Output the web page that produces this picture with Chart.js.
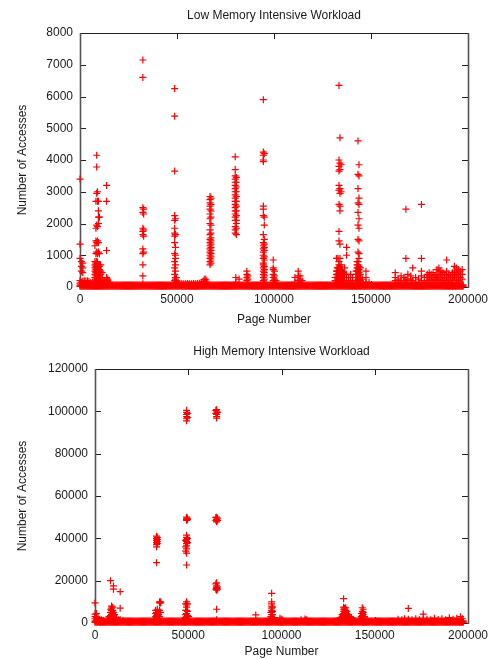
<!DOCTYPE html>
<html>
<head>
<meta charset="utf-8">
<script src="https://cdn.jsdelivr.net/npm/chart.js@4"></script>
<style>
  body { margin: 0; background: #fff; }
  canvas { display: block; }
</style>
</head>
<body>
<canvas id="lowChart" width="496" height="330"></canvas>
<canvas id="highChart" width="496" height="329"></canvas>
<script>
// tick labels
const pageTicks = [0, 50000, 100000, 150000, 200000];
const lowTicks = [0, 1000, 2000, 3000, 4000, 5000, 6000, 7000, 8000];
const highTicks = [0, 20000, 40000, 60000, 80000, 100000, 120000];

// pages touched by both workloads (the solid band along the bottom)
const basePages = [
  0, 500, 1000, 1500, 2000, 2500, 3000, 3500, 4000, 4500, 5000, 5500, 6000, 6500, 7000, 7500, 8000, 8500, 9000, 9500,
  10000, 10500, 11000, 11500, 12000, 12500, 13000, 13500, 14000, 14500, 15000, 15500, 16000, 16500, 17000, 17500, 18000, 18500, 19000, 19500,
  20000, 20500, 21000, 21500, 22000, 22500, 23000, 23500, 24000, 24500, 25000, 25500, 26000, 26500, 27000, 27500, 28000, 28500, 29000, 29500,
  30000, 30500, 31000, 31500, 32000, 32500, 33000, 33500, 34000, 34500, 35000, 35500, 36000, 36500, 37000, 37500, 38000, 38500, 39000, 39500,
  40000, 40500, 41000, 41500, 42000, 42500, 43000, 43500, 44000, 44500, 45000, 45500, 46000, 46500, 47000, 47500, 48000, 48500, 49000, 49500,
  50000, 50500, 51000, 51500, 52000, 52500, 53000, 53500, 54000, 54500, 55000, 55500, 56000, 56500, 57000, 57500, 58000, 58500, 59000, 59500,
  60000, 60500, 61000, 61500, 62000, 62500, 63000, 63500, 64000, 64500, 65000, 65500, 66000, 66500, 67000, 67500, 68000, 68500, 69000, 69500,
  70000, 70500, 71000, 71500, 72000, 72500, 73000, 73500, 74000, 74500, 75000, 75500, 76000, 76500, 77000, 77500, 78000, 78500, 79000, 79500,
  80000, 80500, 81000, 81500, 82000, 82500, 83000, 83500, 84000, 84500, 85000, 85500, 86000, 86500, 87000, 87500, 88000, 88500, 89000, 89500,
  90000, 90500, 91000, 91500, 92000, 92500, 93000, 93500, 94000, 94500, 95000, 95500, 96000, 96500, 97000, 97500, 98000, 98500, 99000, 99500,
  100000, 100500, 101000, 101500, 102000, 102500, 103000, 103500, 104000, 104500, 105000, 105500, 106000, 106500, 107000, 107500, 108000, 108500, 109000, 109500,
  110000, 110500, 111000, 111500, 112000, 112500, 113000, 113500, 114000, 114500, 115000, 115500, 116000, 116500, 117000, 117500, 118000, 118500, 119000, 119500,
  120000, 120500, 121000, 121500, 122000, 122500, 123000, 123500, 124000, 124500, 125000, 125500, 126000, 126500, 127000, 127500, 128000, 128500, 129000, 129500,
  130000, 130500, 131000, 131500, 132000, 132500, 133000, 133500, 134000, 134500, 135000, 135500, 136000, 136500, 137000, 137500, 138000, 138500, 139000, 139500,
  140000, 140500, 141000, 141500, 142000, 142500, 143000, 143500, 144000, 144500, 145000, 145500, 146000, 146500, 147000, 147500, 148000, 148500, 149000, 149500,
  150000, 150500, 151000, 151500, 152000, 152500, 153000, 153500, 154000, 154500, 155000, 155500, 156000, 156500, 157000, 157500, 158000, 158500, 159000, 159500,
  160000, 160500, 161000, 161500, 162000, 162500, 163000, 163500, 164000, 164500, 165000, 165500, 166000, 166500, 167000, 167500, 168000, 168500, 169000, 169500,
  170000, 170500, 171000, 171500, 172000, 172500, 173000, 173500, 174000, 174500, 175000, 175500, 176000, 176500, 177000, 177500, 178000, 178500, 179000, 179500,
  180000, 180500, 181000, 181500, 182000, 182500, 183000, 183500, 184000, 184500, 185000, 185500, 186000, 186500, 187000, 187500, 188000, 188500, 189000, 189500,
  190000, 190500, 191000, 191500, 192000, 192500, 193000, 193500, 194000, 194500, 195000, 195500, 196000, 196500, 197000, 197500
];
const lowBaseAccesses = [20, 60];
const highBaseAccesses = [300, 900];

// [page, accesses...] read column by column
const lowColumns = [
  [0, [3400, 1350, 900, 200, 120]],
  [700, [800, 650, 500, 150]],
  [1400, [750, 600, 450, 180]],
  [2200, [200, 120]],
  [3000, [180, 100]],
  [3800, [200, 120]],
  [4600, [180, 100]],
  [5500, [130]],
  [6500, [150]],
  [7700, [1300, 800, 700, 600, 500, 400, 300, 200, 100]],
  [8200, [2700, 1850, 1450, 1050, 750, 650, 550, 450, 350, 250, 150]],
  [8600, [4150, 3780, 2950, 1950, 1400, 1100, 800, 700, 600, 500, 400, 300, 200, 100]],
  [9000, [3000, 2700, 1900, 1450, 1050, 780, 680, 580, 480, 380, 280, 180]],
  [9500, [2700, 2400, 2200, 2000, 1400, 1100, 700, 600, 500, 400, 300, 200]],
  [10000, [2200, 1050, 650, 550, 450, 350, 250, 150]],
  [10600, [700, 500, 400, 300, 200]],
  [11400, [450, 300, 200, 100]],
  [12400, [200, 150, 100]],
  [13700, [3200, 2700, 1150, 300, 250, 200]],
  [14300, [250, 200, 150, 100]],
  [15000, [150, 100]],
  [32400, [7150, 6600, 2500, 2350, 1850, 1750, 1650, 1200, 1050, 700, 350, 100]],
  [32800, [2450, 2300, 1800, 1600, 1100]],
  [48800, [6250, 5380, 3650, 2250, 2100, 1850, 1700, 1600, 1400, 1050, 800, 600, 400, 200]],
  [49200, [2150, 1650, 1250, 1000, 900, 700, 500, 300, 250, 150]],
  [49700, [300, 200, 150]],
  [50500, [120]], [51500, [100]], [52500, [110]], [53500, [100]], [54500, [100]],
  [55500, [110]], [56500, [100]], [57500, [100]], [58500, [110]], [59500, [100]],
  [60500, [110]], [61500, [120]], [62500, [130]],
  [63500, [180]], [64000, [230]], [64500, [250, 150]], [65000, [220, 100]], [65500, [150]],
  [67000, [2850, 2750, 2650, 2550, 2450, 2300, 2150, 2000, 1800, 1650, 1500, 1400, 1300, 1200, 1100, 1000, 900, 800, 700]],
  [67500, [2800, 2600, 2400, 2200, 1950, 1700, 1550, 1450, 1350, 1250, 1150, 1050, 950, 850, 750]],
  [80000, [4100, 3700, 3500, 3400, 3300, 3200, 3100, 3000, 2900, 2800, 2700, 2600, 2500, 2400, 2300, 2200, 2100, 1900, 1800, 1700]],
  [80300, [300, 150]],
  [80600, [3450, 3300, 3150, 3000, 2850, 2700, 2550, 2400, 2250, 2100, 2000, 1850, 1650]],
  [82000, [250]],
  [86000, [500, 400, 300, 200]],
  [86500, [350, 250]],
  [94500, [5900, 4250, 4150, 4000, 3950, 2550, 2450, 2250, 1650, 1400, 1300, 1200, 1100, 1000, 900, 750, 700, 600, 500, 400, 300, 200, 100]],
  [95000, [4200, 2200, 1950, 1500, 1350, 1250, 1150, 950, 850, 650, 550, 450, 350, 250, 150]],
  [99600, [850, 600, 550, 400, 300, 200]],
  [100200, [500, 350, 250, 150]],
  [101000, [200, 100]],
  [110800, [300, 150]],
  [112500, [500, 350, 200]],
  [113400, [350, 250, 150]],
  [114500, [200, 100]],
  [131500, [300, 200]],
  [132200, [900, 500, 400, 300, 200]],
  [132600, [600, 500, 400, 300, 200, 100]],
  [133000, [900, 600, 500, 400, 300, 200, 100]],
  [133500, [6350, 4000, 3800, 3650, 3200, 3050, 2600, 1750, 1450, 800, 700, 600, 500, 450, 400, 350, 300, 250, 200, 150]],
  [134000, [4700, 3900, 3700, 3100, 2950, 2550, 2400, 1350, 900, 650, 550, 450, 350, 250, 150]],
  [134600, [3850, 3000, 700, 500, 400, 300, 200, 100]],
  [135200, [500, 400, 300, 200]],
  [135800, [450, 300, 200]],
  [136400, [600, 400, 300, 200]],
  [137400, [1250, 1000, 400, 300, 200]],
  [138500, [300, 200, 100]],
  [139500, [400, 200]],
  [140500, [300, 150]],
  [142300, [500, 400, 300, 200]],
  [142800, [800, 700, 600, 500, 400, 300, 200, 100]],
  [143300, [4600, 3550, 3100, 2650, 2350, 1950, 1500, 1100, 800, 700, 600, 500, 400, 300, 250, 200, 150]],
  [143800, [3850, 3500, 2800, 2600, 2150, 1850, 1450, 1050, 900, 650, 550, 450, 350, 250, 150]],
  [144500, [600, 400, 300, 200]],
  [145500, [250, 150]],
  [147400, [500, 300, 150]],
  [149000, [150]],
  [162500, [450, 300, 200, 100]],
  [164000, [250, 150]],
  [165500, [350, 200, 100]],
  [167000, [300, 200]],
  [168000, [2450, 900, 250, 150]],
  [169000, [400, 200]],
  [170500, [350, 250, 100]],
  [171500, [600, 200]],
  [173000, [300, 150]],
  [174500, [250, 100]],
  [176000, [2600, 900, 500, 350, 200]],
  [177500, [300, 150]],
  [179000, [400, 300, 200, 100]],
  [180000, [450, 350, 250]],
  [181000, [400, 300, 200]],
  [182000, [450, 300, 150]],
  [183000, [350, 250]],
  [184000, [550, 400, 300, 200]],
  [185000, [600, 500, 350, 250]],
  [186000, [500, 400, 300, 150]],
  [187000, [450, 300, 200]],
  [188000, [400, 250]],
  [189000, [850, 500, 350, 200]],
  [190000, [400, 300, 150]],
  [191000, [350, 250]],
  [192000, [450, 300, 200]],
  [193000, [650, 500, 400, 300]],
  [194000, [600, 450, 350, 250]],
  [195000, [550, 400, 300, 200]],
  [196000, [500, 400, 300, 150]],
  [197000, [550, 400, 250]]
];

const highColumns = [
  [0, [9500, 4200, 3000, 2000]],
  [800, [4500, 2500, 1500]],
  [1600, [2500, 1500]],
  [2500, [1800]],
  [3500, [1500]],
  [4500, [1200]],
  [7500, [3000, 2000]],
  [8300, [20000, 6500, 5000, 3500, 2500]],
  [8900, [8000, 7000, 6000, 5000, 4000, 3000, 2000]],
  [9500, [7500, 6000, 4500, 3000]],
  [9900, [17500, 16000, 5000, 3500, 2500]],
  [10500, [4000, 2500, 1500]],
  [11500, [2500, 1500]],
  [12500, [1500]],
  [13500, [14800, 7000, 1500]],
  [15000, [1200]],
  [32500, [6000, 4500, 3000, 2000]],
  [33000, [41000, 40000, 39000, 38000, 37000, 36000, 28500, 5000, 3500, 2500]],
  [33400, [40500, 39500, 38500, 37500, 6500, 4000]],
  [34000, [4000, 2000]],
  [34600, [10000, 9500, 6000, 3000]],
  [35200, [10000, 9500, 5000]],
  [48600, [39000, 36000, 34000, 9000, 6000, 4000, 2500]],
  [49100, [100500, 99500, 98500, 97500, 96500, 95500, 50000, 49500, 49000, 48500, 41500, 40500, 39500, 38500, 37500, 36500, 35000, 33000, 27400, 10000, 8500, 7500, 6000, 4500, 3000, 2000]],
  [49600, [99000, 97000, 49500, 48800, 40000, 38000, 9000, 5500, 3500]],
  [50200, [3000, 1500]],
  [64800, [100500, 99000, 49800, 48500, 18500, 16000]],
  [65200, [100800, 99800, 98500, 97500, 96800, 50000, 49000, 48200, 47800, 19000, 17500, 16800, 16200, 15500, 6500, 1500]],
  [65700, [99500, 49500, 48500, 17000, 16000]],
  [86200, [3800]],
  [94300, [5000, 3000, 2000]],
  [94700, [14000, 10000, 9000, 8000, 7000, 6000, 5000, 4000, 3000, 2000]],
  [95200, [7500, 5500, 4000, 2500]],
  [96000, [2500, 1500]],
  [99200, [2300, 1500]],
  [100200, [1800]],
  [110500, [1500]],
  [112600, [1900, 1200]],
  [113500, [1500]],
  [131500, [2500, 1800]],
  [132500, [4000, 3000, 2000]],
  [133300, [11500, 7500, 6500, 5500, 4500, 3500, 2500]],
  [133800, [7000, 6200, 5200, 4200, 3200, 2200]],
  [134400, [7200, 6000, 5000, 4000, 3000, 2000]],
  [135000, [5500, 4500, 3500, 2500]],
  [135800, [4000, 3000, 2000]],
  [136600, [3000, 2000]],
  [137500, [2500, 1500]],
  [138500, [1800]],
  [142800, [4500, 3000, 2000]],
  [143300, [7200, 5500, 4500, 3500, 2500]],
  [143800, [6500, 5000, 4000, 3000, 2000]],
  [144500, [3000, 2000]],
  [146000, [1800]],
  [162500, [1800]],
  [164500, [1500]],
  [166000, [2000]],
  [168000, [6900, 1800]],
  [170000, [1500]],
  [172000, [2000]],
  [174000, [1500]],
  [176000, [4200, 2000]],
  [178000, [1800]],
  [180000, [1500]],
  [182000, [2200]],
  [184000, [1600]],
  [186000, [2000]],
  [188000, [1500]],
  [190000, [2500]],
  [192000, [1800]],
  [194000, [2200]],
  [196000, [3000, 1800]],
  [197000, [2000]]
];

function toPoints(pages, baseValues, columns) {
  const pts = [];
  for (const p of pages) {
    for (const v of baseValues) pts.push({ x: p, y: v });
  }
  for (const [page, vals] of columns) {
    for (const v of vals) pts.push({ x: page, y: v });
  }
  return pts;
}

Chart.defaults.font.family = '"Liberation Sans", Arial, Helvetica, sans-serif';
Chart.defaults.font.size = 12;
Chart.defaults.color = '#1a1a1a';

// gnuplot style border with ticks pointing inwards on all four sides
const gnuplotFrame = {
  id: 'gnuplotFrame',
  beforeDatasetsDraw(chart) {
    const { ctx, chartArea: a, scales: { x, y } } = chart;
    ctx.save();
    ctx.strokeStyle = '#222';
    ctx.lineWidth = 1;
    ctx.beginPath();
    ctx.moveTo(a.left, a.top + 0.5);
    ctx.lineTo(a.right, a.top + 0.5);
    ctx.moveTo(a.left, a.bottom + 0.5);
    ctx.lineTo(a.right, a.bottom + 0.5);
    for (const t of x.ticks) {
      const px = Math.round(x.getPixelForValue(t.value)) + 0.5;
      ctx.moveTo(px, a.bottom);
      ctx.lineTo(px, a.bottom - 6);
      ctx.moveTo(px, a.top);
      ctx.lineTo(px, a.top + 6);
    }
    for (const t of y.ticks) {
      const py = Math.round(y.getPixelForValue(t.value)) + 0.5;
      ctx.moveTo(a.left, py);
      ctx.lineTo(a.left + 6, py);
      ctx.moveTo(a.right, py);
      ctx.lineTo(a.right - 6, py);
    }
    ctx.stroke();
    ctx.strokeStyle = '#555';
    ctx.lineWidth = 1.6;
    ctx.beginPath();
    ctx.moveTo(a.left + 0.5, a.top);
    ctx.lineTo(a.left + 0.5, a.bottom + 1);
    ctx.moveTo(a.right + 0.5, a.top);
    ctx.lineTo(a.right + 0.5, a.bottom + 1);
    ctx.stroke();
    ctx.restore();
  }
};

function makeChart(id, opts) {
  return new Chart(document.getElementById(id), {
    type: 'scatter',
    data: {
      datasets: [{
        data: opts.points,
        pointStyle: 'cross',
        pointRadius: 3.5,
        borderWidth: 1.2,
        borderColor: '#ff0000',
        backgroundColor: '#ff0000',
        clip: false
      }]
    },
    options: {
      responsive: false,
      animation: false,
      events: [],
      layout: { padding: { top: 0, right: 28, bottom: 0, left: 0 } },
      plugins: {
        legend: { display: false },
        tooltip: { enabled: false },
        title: {
          display: true,
          text: opts.title,
          fullSize: false,
          color: '#1a1a1a',
          font: { size: 12, weight: 'normal' },
          padding: { top: opts.titleTop, bottom: opts.titleBottom }
        }
      },
      scales: {
        x: {
          type: 'linear',
          min: 0,
          max: 200000,
          afterBuildTicks: s => { s.ticks = pageTicks.map(v => ({ value: v })); },
          afterFit: s => { s.height = opts.xHeight; },
          grid: { display: false, drawTicks: false },
          border: { display: false },
          ticks: { padding: 5, callback: v => String(v), maxRotation: 0 },
          title: {
            display: true,
            text: 'Page Number',
            font: { size: 12 },
            padding: { top: 0, bottom: opts.xTitleBottom }
          }
        },
        y: {
          type: 'linear',
          min: 0,
          max: opts.yMax,
          afterBuildTicks: s => { s.ticks = opts.yTicks.map(v => ({ value: v })); },
          afterFit: s => { s.width = opts.yWidth; },
          grid: { display: false, drawTicks: false },
          border: { display: false },
          ticks: { padding: 7, callback: v => String(v) },
          title: {
            display: true,
            text: 'Number of Accesses',
            font: { size: 12 },
            padding: { top: 15, bottom: 0 }
          }
        }
      }
    },
    plugins: [gnuplotFrame]
  });
}

makeChart('lowChart', {
  title: 'Low Memory Intensive Workload',
  points: toPoints(basePages, lowBaseAccesses, lowColumns),
  yMax: 8000,
  yTicks: lowTicks,
  yWidth: 80,
  xHeight: 43,
  xTitleBottom: 3,
  titleTop: 8,
  titleBottom: 10.6
});

makeChart('highChart', {
  title: 'High Memory Intensive Workload',
  points: toPoints(basePages, highBaseAccesses, highColumns),
  yMax: 120000,
  yTicks: highTicks,
  yWidth: 95,
  xHeight: 36,
  xTitleBottom: 0,
  titleTop: 14,
  titleBottom: 10.6
});
</script>
</body>
</html>
